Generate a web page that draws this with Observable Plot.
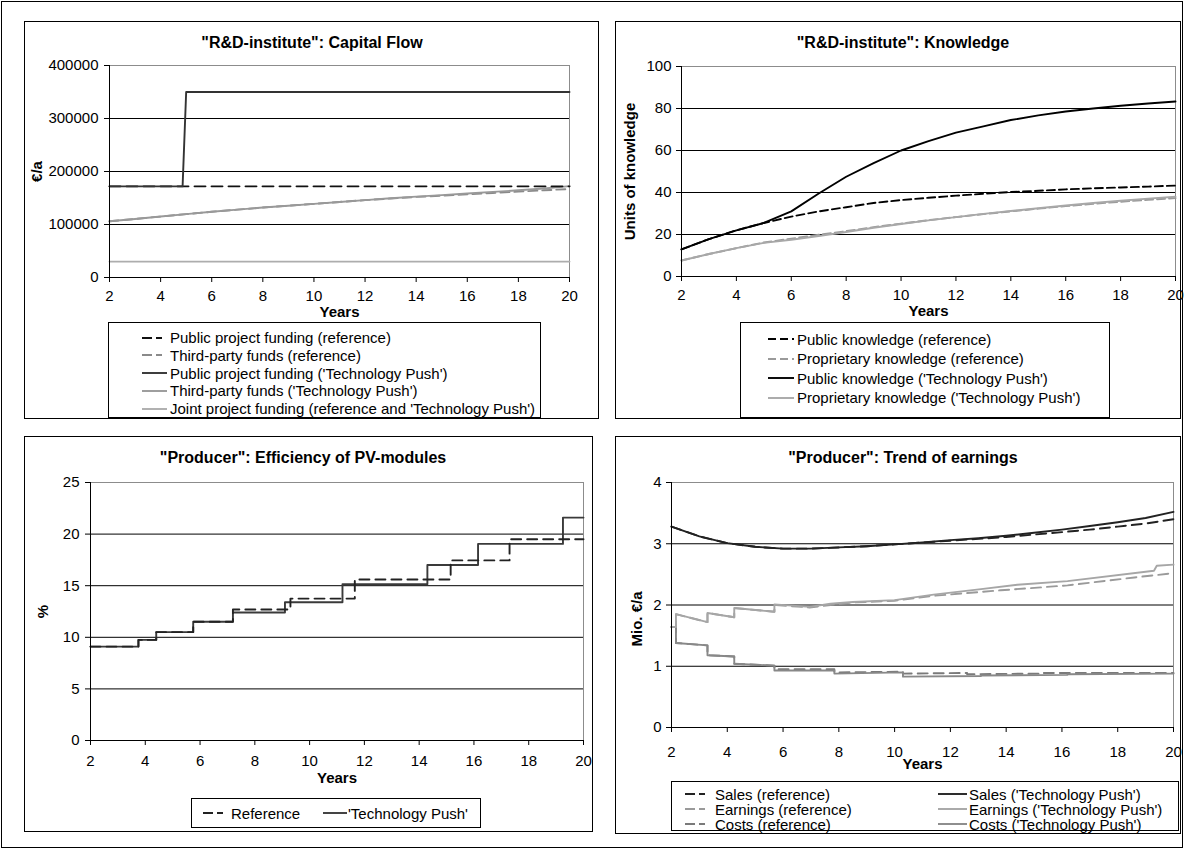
<!DOCTYPE html>
<html><head><meta charset="utf-8">
<script src="https://cdn.jsdelivr.net/npm/d3@7"></script>
<script src="https://cdn.jsdelivr.net/npm/@observablehq/plot@0.6"></script>
<style>
body{margin:0;background:#fff;}
#root{position:relative;width:1184px;height:849px;font-family:"Liberation Sans",Arial,sans-serif;color:#000;overflow:hidden;background:#fff;}
.frame{position:absolute;border:1px solid #000;box-sizing:border-box;}
.title{position:absolute;font-weight:bold;font-size:16px;transform:translate(-50%,-50%);white-space:nowrap;}
.legend{position:absolute;border:1px solid #000;box-sizing:border-box;font-size:15px;background:#fff;}
.row{position:absolute;display:flex;align-items:center;white-space:nowrap;height:18px;}
.row svg{display:block;}
</style></head><body><div id="root"></div>
<script>
// ---------- DATA ----------
const xTicks = [2, 4, 6, 8, 10, 12, 14, 16, 18, 20];

// Panel 1: "R&D-institute": Capital Flow (€/a)
const capTicks = [0, 100000, 200000, 300000, 400000];
const capYears = [2, 3, 4, 5, 6, 7, 8, 9, 10, 11, 12, 13, 14, 15, 16, 17, 18, 19, 20];
const thirdPartyRef = [106000,110500,115000,119500,124000,128000,132000,135500,139000,142500,146000,149000,152000,154500,157000,159500,162000,164500,167000];
const thirdPartyTP  = [106000,110500,115000,119500,124000,128000,132000,135500,139000,142500,146000,149500,152500,155500,158500,161500,164500,168000,172500];
const publicRefYears = [2, 20];
const publicRef = [172000, 172000];
const publicTPYears = [2, 4.86, 5, 20];
const publicTP = [172000, 172000, 350000, 350000];
const jointYears = [2, 20];
const joint = [30000, 30000];

// Panel 2: "R&D-institute": Knowledge
const knowTicks = [0, 20, 40, 60, 80, 100];
const knowYears = [2, 3, 4, 5, 6, 7, 8, 9, 10, 11, 12, 13, 14, 15, 16, 17, 18, 19, 20];
const publicKnowTP  = [12.9,17.8,22,25.5,31,39.5,47.5,54,60,64.5,68.5,71.5,74.5,76.7,78.6,80,81.3,82.4,83.3];
const publicKnowRef = [12.9,17.8,22,25.5,28.5,31,33,35,36.4,37.5,38.5,39.4,40.2,40.8,41.5,42,42.4,42.8,43.3];
const propKnowTP    = [7.6,10.7,13.5,16,17.5,19.3,21.2,23.2,25,26.7,28.3,29.8,31.2,32.5,33.8,35,36.1,37.1,38];
const propKnowRef   = [7.6,10.7,13.5,16.2,18,19.9,21.6,23.5,25.2,26.8,28.3,29.7,31,32.3,33.5,34.6,35.6,36.5,37.3];

// Panel 3: "Producer": Efficiency of PV-modules (%)
const effTicks = [0, 5, 10, 15, 20, 25];
const effRefYears = [2, 3.75, 4.4, 5.75, 7.2, 9.3, 11.65, 15.15, 17.3, 20];
const effRef = [9.1, 9.75, 10.5, 11.5, 12.7, 13.75, 15.6, 17.45, 19.5, 19.5];
const effTPYears = [2, 3.75, 4.4, 5.75, 7.2, 9.1, 11.2, 14.3, 16.15, 19.25, 20];
const effTP = [9.1, 9.75, 10.5, 11.5, 12.4, 13.4, 15.15, 17.0, 19.05, 21.6, 21.6];

// Panel 4: "Producer": Trend of earnings (Mio. €/a)
const earnTicks = [0, 1, 2, 3, 4];
const salesYears = [2, 3, 4, 5, 6, 7, 8, 9, 10, 11, 12, 13, 14, 15, 16, 17, 18, 19, 20];
const salesTP  = [3.28,3.12,3.01,2.95,2.92,2.92,2.94,2.96,2.99,3.02,3.06,3.09,3.13,3.18,3.23,3.29,3.35,3.42,3.52];
const salesRef = [3.28,3.12,3.01,2.95,2.92,2.92,2.94,2.96,2.99,3.02,3.05,3.08,3.11,3.15,3.19,3.23,3.28,3.33,3.40];
const earnTPYears = [2, 2.16, 2.16, 3.29, 3.29, 4.25, 4.25, 5.69, 5.69, 6.95, 7.7, 8.5, 10, 11.4, 13.1, 14.4, 16.2, 19.3, 19.4, 20];
const earnTP      = [1.64, 1.64, 1.85, 1.72, 1.87, 1.80, 1.95, 1.89, 2.01, 1.97, 2.02, 2.05, 2.08, 2.17, 2.26, 2.33, 2.39, 2.56, 2.64, 2.66];
const earnRefYears = [2, 2.16, 2.16, 3.29, 3.29, 4.25, 4.25, 5.69, 5.69, 6.95, 7.7, 8.5, 10, 11.4, 13.8, 16.2, 18.6, 20];
const earnRef      = [1.64, 1.64, 1.85, 1.72, 1.87, 1.80, 1.95, 1.89, 2.00, 1.96, 2.00, 2.04, 2.07, 2.15, 2.24, 2.32, 2.45, 2.52];
const costTPYears = [2, 2.16, 2.16, 3.29, 3.29, 4.25, 4.25, 5.69, 5.69, 7.84, 7.84, 10.3, 10.3, 13.1, 13.1, 16.2, 16.2, 20];
const costTP      = [1.64, 1.64, 1.38, 1.34, 1.18, 1.16, 1.04, 1.01, 0.93, 0.93, 0.88, 0.90, 0.83, 0.84, 0.85, 0.86, 0.87, 0.88];
const costRefYears = [2, 2.16, 2.16, 3.29, 3.29, 4.25, 4.25, 5.69, 5.69, 7.84, 7.84, 10.3, 10.3, 12.6, 12.6, 15.3, 15.3, 17.3, 20];
const costRef      = [1.64, 1.64, 1.38, 1.34, 1.18, 1.16, 1.04, 1.01, 0.95, 0.95, 0.90, 0.91, 0.88, 0.89, 0.87, 0.88, 0.89, 0.89, 0.89];

// ---------- RENDER ----------
const root = document.getElementById("root");
const FONT = '"Liberation Sans", Arial, sans-serif';
const FS = 15;

function el(tag, cls, css, html) {
  const e = document.createElement(tag);
  if (cls) e.className = cls;
  Object.assign(e.style, css || {});
  if (html != null) e.innerHTML = html;
  root.appendChild(e);
  return e;
}
function pts(xs, ys) { return xs.map((x, i) => ({x, y: ys[i]})); }

function chart(p) {
  const [l, t, w, h] = p.box;
  const marks = [
    Plot.ruleY(p.yTicks.slice(1, -1), {stroke: "#000", strokeWidth: 1}),
    Plot.ruleY([p.yTicks[p.yTicks.length - 1]], {stroke: "#8c8c8c", strokeWidth: 1}),
    Plot.ruleX([20], {stroke: "#8c8c8c", strokeWidth: 1}),
    ...p.series.map(s => Plot.line(pts(s.x, s.y), {
      x: "x", y: "y", stroke: s.color, strokeWidth: s.width || 1.9,
      strokeDasharray: s.dash, curve: s.curve || "linear"
    })),
    Plot.ruleX([2], {stroke: "#000", strokeWidth: 1}),
    Plot.ruleY([0], {stroke: "#000", strokeWidth: 1}),
    Plot.axisX({ticks: xTicks, tickSize: 5, tickPadding: p.xPad, tickFormat: d => String(d), label: null}),
    Plot.axisY({ticks: p.yTicks, tickSize: 5, tickPadding: p.yPad, tickFormat: d => String(d), label: null}),
    Plot.text(["Years"], {frameAnchor: "bottom", textAnchor: "middle", dy: p.yearsDy, fontWeight: "bold", fontSize: FS}),
    Plot.text([p.ylabel], {frameAnchor: "left", textAnchor: "middle", dx: p.ylabelDx, dy: p.ylabelDy || 0, rotate: -90, fontWeight: "bold", fontSize: FS})
  ];
  const svg = Plot.plot({
    width: w, height: h,
    marginLeft: p.m[0], marginTop: p.m[1], marginRight: p.m[2], marginBottom: p.m[3],
    x: {domain: [2, 20]},
    y: {domain: [p.yTicks[0], p.yTicks[p.yTicks.length - 1]]},
    style: {fontFamily: FONT, fontSize: FS + "px", color: "#000", background: "transparent", overflow: "visible"},
    marks
  });
  Object.assign(svg.style, {position: "absolute", left: l + "px", top: t + "px"});
  root.appendChild(svg);
}

function sample(color, dash, sw, gap) {
  const w = sw || 25;
  return `<svg width="${w}" height="10" style="margin-right:${gap || 3}px"><line x1="0" y1="5" x2="${w}" y2="5" stroke="${color}" stroke-width="1.9" ${dash ? `stroke-dasharray="${dash}"` : ""}/></svg>`;
}
function legend(box, rows) {
  const [l, t, w, h] = box;
  const lg = el("div", "legend", {left: l + "px", top: t + "px", width: w + "px", height: h + "px"});
  rows.forEach(r => {
    const d = document.createElement("div");
    d.className = "row";
    Object.assign(d.style, {left: r.x + "px", top: (r.y - 9) + "px"});
    d.innerHTML = sample(r.color, r.dash, r.sw, r.gap) + `<span>${r.label}</span>`;
    lg.appendChild(d);
  });
}
const DASH = "10,4,6,20";

// outer frame
el("div", "frame", {left: "1px", top: "1px", width: "1182px", height: "847px"});

// panel frames
el("div", "frame", {left: "24px", top: "21px", width: "575px", height: "398px"});
el("div", "frame", {left: "615px", top: "21px", width: "566px", height: "398px"});
el("div", "frame", {left: "24px", top: "436px", width: "569px", height: "396px"});
el("div", "frame", {left: "615px", top: "436px", width: "566px", height: "398px"});

// titles
el("div", "title", {left: "312px", top: "43px"}, '"R&amp;D-institute": Capital Flow');
el("div", "title", {left: "903px", top: "43px"}, '"R&amp;D-institute": Knowledge');
el("div", "title", {left: "303px", top: "458px"}, '"Producer": Efficiency of PV-modules');
el("div", "title", {left: "903px", top: "458px"}, '"Producer": Trend of earnings');

// Panel 1
chart({
  box: [24, 21, 575, 310], m: [85, 44, 30, 54],
  yTicks: capTicks, xPad: 8, yPad: 6, yearsDy: 39, ylabel: "€/a", ylabelDx: -72,
  series: [
    {x: jointYears, y: joint, color: "#adadad"},
    {x: capYears, y: thirdPartyRef, color: "#8a8a8a", dash: "9,5"},
    {x: capYears, y: thirdPartyTP, color: "#999999"},
    {x: publicRefYears, y: publicRef, color: "#111", dash: "11,6"},
    {x: publicTPYears, y: publicTP, color: "#333"}
  ]
});
legend([108, 322, 433, 96], [
  {x: 33, y: 14.7, color: "#111", dash: DASH, label: "Public project funding (reference)"},
  {x: 33, y: 32.4, color: "#8a8a8a", dash: DASH, label: "Third-party funds (reference)"},
  {x: 33, y: 50.1, color: "#333", label: "Public project funding ('Technology Push')"},
  {x: 33, y: 67.8, color: "#999", label: "Third-party funds ('Technology Push')"},
  {x: 33, y: 85.5, color: "#adadad", label: "Joint project funding (reference and 'Technology Push')"}
]);

// Panel 2
chart({
  box: [615, 21, 566, 310], m: [66, 45, 6, 55],
  yTicks: knowTicks, xPad: 8, yPad: 5, yearsDy: 39, ylabel: "Units of knowledge", ylabelDx: -51,
  series: [
    {x: knowYears, y: propKnowRef, color: "#9a9a9a", dash: "8,4"},
    {x: knowYears, y: propKnowTP, color: "#a8a8a8"},
    {x: knowYears, y: publicKnowRef, color: "#000", dash: "8,4"},
    {x: knowYears, y: publicKnowTP, color: "#000"}
  ]
});
legend([740, 322, 370, 96], [
  {x: 27, y: 16, color: "#000", dash: "8,4,8,4", sw: 26, label: "Public knowledge (reference)"},
  {x: 27, y: 35.5, color: "#9a9a9a", dash: "8,4,8,4", sw: 26, label: "Proprietary knowledge (reference)"},
  {x: 27, y: 55, color: "#000", sw: 26, label: "Public knowledge ('Technology Push')"},
  {x: 27, y: 74.5, color: "#a8a8a8", sw: 26, label: "Proprietary knowledge ('Technology Push')"}
]);

// Panel 3
chart({
  box: [24, 436, 569, 360], m: [66, 46, 10, 56],
  yTicks: effTicks, xPad: 10, yPad: 6, yearsDy: 42, ylabel: "%", ylabelDx: -47,
  series: [
    {x: effTPYears, y: effTP, color: "#3a3a3a", curve: "step-after"},
    {x: effRefYears, y: effRef, color: "#222", dash: "10,6", curve: "step-after"}
  ]
});
legend([191, 798, 290, 30], [
  {x: 11, y: 14, color: "#222", dash: DASH, sw: 24, gap: 4, label: "Reference"},
  {x: 131, y: 14, color: "#3a3a3a", sw: 24, gap: 1, label: "'Technology Push'"}
]);

// Panel 4
chart({
  box: [615, 436, 566, 340], m: [56, 46, 8, 49],
  yTicks: earnTicks, xPad: 14, yPad: 5, yearsDy: 41, ylabel: "Mio. €/a", ylabelDx: -34, ylabelDy: 14,
  series: [
    {x: costRefYears, y: costRef, color: "#7a7a7a", dash: "10,6"},
    {x: costTPYears, y: costTP, color: "#888888"},
    {x: earnRefYears, y: earnRef, color: "#9a9a9a", dash: "10,6"},
    {x: earnTPYears, y: earnTP, color: "#a6a6a6"},
    {x: salesYears, y: salesRef, color: "#222", dash: "10,6"},
    {x: salesYears, y: salesTP, color: "#222"}
  ]
});
legend([671, 781, 508, 50], [
  {x: 13, y: 12.3, color: "#222", dash: DASH, sw: 27, label: "Sales (reference)"},
  {x: 13, y: 27.3, color: "#9a9a9a", dash: DASH, sw: 27, label: "Earnings (reference)"},
  {x: 13, y: 42.3, color: "#7a7a7a", dash: DASH, sw: 27, label: "Costs (reference)"},
  {x: 266, y: 12.3, color: "#222", sw: 29, gap: 2, label: "Sales ('Technology Push')"},
  {x: 266, y: 27.3, color: "#a6a6a6", sw: 29, gap: 2, label: "Earnings ('Technology Push')"},
  {x: 266, y: 42.3, color: "#888888", sw: 29, gap: 2, label: "Costs ('Technology Push')"}
]);
</script></body></html>
